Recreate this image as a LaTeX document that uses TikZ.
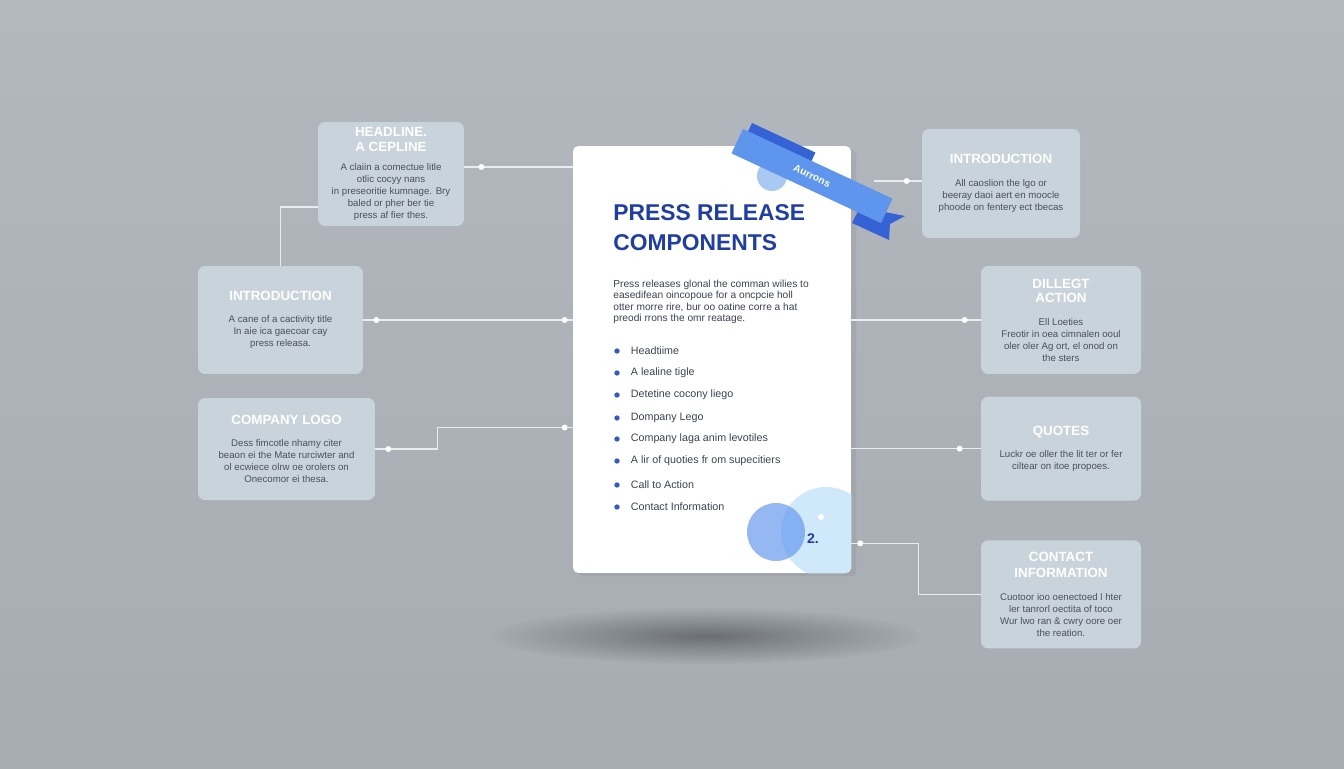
\documentclass[tikz,border=0pt]{standalone}
\usepackage{fontspec}
\setmainfont{Liberation Sans}
\usepackage{xcolor}
\usepackage{tikz}
\usetikzlibrary{positioning,calc,shadows}
\definecolor{bgtop}{HTML}{B3B8BF}
\definecolor{bgbot}{HTML}{A7ACB3}
\definecolor{cardfill}{HTML}{C8D3DC}
\definecolor{cardtext}{HTML}{4A515B}
\definecolor{ink}{HTML}{1F3DA8}
\definecolor{para}{HTML}{3A4252}
\definecolor{bulletc}{HTML}{2F58CC}
\definecolor{linkc}{HTML}{E9EDF1}
\definecolor{ribbon}{HTML}{5E96EE}
\definecolor{ribdark}{HTML}{3563D6}
\definecolor{paleblue}{HTML}{CFE9FB}
\definecolor{midblue}{HTML}{5D93EC}
\definecolor{softblue}{HTML}{A9C9F3}
\definecolor{shadowc}{HTML}{6A6E74}
\tikzset{
    card/.style={rectangle, rounded corners=4pt, fill=cardfill, align=center, inner sep=0pt, font=\fontsize{5.5}{6.8}\selectfont, text=cardtext},
    sheet/.style={rectangle, rounded corners=3pt, fill=white, drop shadow={shadow xshift=3pt, shadow yshift=-2pt, opacity=.18}},
    link/.style={draw=linkc, line width=0.9pt},
    dot/.style={circle, fill=white, inner sep=0pt, minimum size=3.4pt},
    bullet/.style={circle, fill=bulletc, inner sep=0pt, minimum size=3pt},
    item/.style={anchor=west, inner sep=0pt, font=\fontsize{6.1}{7}\selectfont, text=para},
    band/.style={rectangle, inner sep=0pt, minimum width=3.3cm, minimum height=0.54cm, rotate=-25, font=\fontsize{5.8}{6}\selectfont\bfseries, text=white}
}
\newcommand{\cardhead}[1]{{\fontsize{7.6}{7.6}\selectfont\bfseries\color{white}#1}}

\begin{document}
\begin{tikzpicture}[x=0.02cm, y=-0.02cm]
\useasboundingbox (0,0) rectangle (1344,768);
\shade[top color=bgtop, bottom color=bgbot] (0,0) rectangle (1344,768);
\shade[inner color=shadowc, outer color=bgbot] (705,636) ellipse (215 and 28);

\node[card, minimum width=2.92cm, minimum height=2.08cm] (hl) at (391,174) {\cardhead{HEADLINE.}\\[1.5pt]\cardhead{A CEPLINE}\\[4.5pt]A claiin a comectue litle\\otlic cocyy nans\\in preseoritie kumnage. Bry\\baled or pher ber tie\\press af fier thes.};
\node[card, minimum width=3.3cm, minimum height=2.16cm] (introL) at (280.5,320) {\cardhead{INTRODUCTION}\\[6pt]A cane of a cactivity title\\In aie ica gaecoar cay\\press releasa.};
\node[card, minimum width=3.54cm, minimum height=2.04cm] (logo) at (286.5,449) {\cardhead{COMPANY LOGO}\\[6pt]Dess fimcotle nhamy citer\\beaon ei the Mate rurciwter and\\ol ecwiece olrw oe orolers on\\Onecomor ei thesa.};

\node[card, minimum width=3.16cm, minimum height=2.18cm] (introR) at (1001,183.5) {\cardhead{INTRODUCTION}\\[6pt]All caoslion the lgo or\\beeray daoi aert en moocle\\phoode on fentery ect tbecas};
\node[card, minimum width=3.2cm, minimum height=2.16cm] (action) at (1061,320) {\cardhead{DILLEGT}\\[1.5pt]\cardhead{ACTION}\\[6pt]Ell Loeties\\Freotir in oea cimnalen ooul\\oler oler Ag ort, el onod on\\the sters};
\node[card, minimum width=3.2cm, minimum height=2.08cm, below=0.44cm of action] (quotes) {\cardhead{QUOTES}\\[6pt]Luckr oe oller the lit ter or fer\\ciltear on itoe propoes.};
\node[card, minimum width=3.2cm, minimum height=2.16cm, below=0.78cm of quotes] (contact) {\cardhead{CONTACT}\\[2.5pt]\cardhead{INFORMATION}\\[6pt]Cuotoor ioo oenectoed l hter\\ler tanrorl oectita of toco\\Wur lwo ran \& cwry oore oer\\the reation.};

\node[sheet, minimum width=5.56cm, minimum height=8.54cm] (doc) at (712,359.5) {};
\node[anchor=north west, inner sep=0pt, align=left, font=\fontsize{13}{17}\selectfont\bfseries, text=ink] (title) at (613,204) {PRESS RELEASE\\COMPONENTS};
\node[anchor=north west, inner sep=0pt, align=left, font=\fontsize{5.8}{6.4}\selectfont, text=para] (intro) at (613,280) {Press releases glonal the comman wilies to\\easedifean oincopoue for a oncpcie holl\\otter morre rire, bur oo oatine corre a hat\\preodi rrons the omr reatage.};
\foreach \y/\txt [count=\i] in {351/Headtiime, 373/A lealine tigle, 395/Detetine cocony liego, 418/Dompany Lego, 439/Company laga anim levotiles, 461/A lir of quoties fr om supecitiers, 485/Call to Action, 507/Contact Information}{
    \node[bullet] (b\i) at (617,\y) {};
    \node[item, right=6pt of b\i] {\txt};
}
\begin{scope}
\clip[rounded corners=3pt] (doc.south west) rectangle (doc.north east);
\fill[paleblue] (826,532) circle (45);
\fill[midblue, opacity=.65] (776,532) circle (29);
\end{scope}
\fill[white] (821,517) circle (3);
\node[font=\fontsize{8}{8}\selectfont\bfseries, text=ink] (num) at (813,539) {2.};

\coordinate (ribEnd) at (874,181);
\draw[link] ($(hl.east)+(0,-7)$) -- ($(hl.east -| doc.west)+(0,-7)$);
\node[dot] at ($(hl.east)+(17,-7)$) {};
\draw[link] ($(hl.west)+(0,33)$) -| (introL.north);
\draw[link] (introL.east) -- (introL.east -| doc.west);
\node[dot] at ($(introL.east)+(13,0)$) {};
\node[dot] at ($(introL.east -| doc.west)+(-8,0)$) {};
\draw[link] (logo.east) -- ++(62,0) |- ($(doc.west)+(0,68)$);
\node[dot] at ($(logo.east)+(13,0)$) {};
\node[dot] at ($(doc.west)+(-8,68)$) {};
\draw[link] (ribEnd) -- (ribEnd -| introR.west);
\node[dot] at ($(ribEnd -| introR.west)+(-15,0)$) {};
\draw[link] (action.west -| doc.east) -- (action.west);
\node[dot] at ($(action.west)+(-16,0)$) {};
\draw[link] (quotes.west -| doc.east) -- (quotes.west);
\node[dot] at ($(quotes.west)+(-21,0)$) {};
\draw[link] ($(doc.south east)+(0,-30)$) -- ++(67,0) |- (contact.west);
\node[dot] at ($(doc.south east)+(9,-30)$) {};

\fill[softblue] (772,176) circle (15);
\node[band, fill=ribdark, minimum width=1.4cm] (ribBack) at (778,150) {};
\fill[ribdark] (860,207) -- (905,216) -- (890,224) -- (889,240) -- (852,223) -- cycle;
\node[band, fill=ribbon] (rib) at (812,176) {Aurrons};
\end{tikzpicture}
\end{document}
